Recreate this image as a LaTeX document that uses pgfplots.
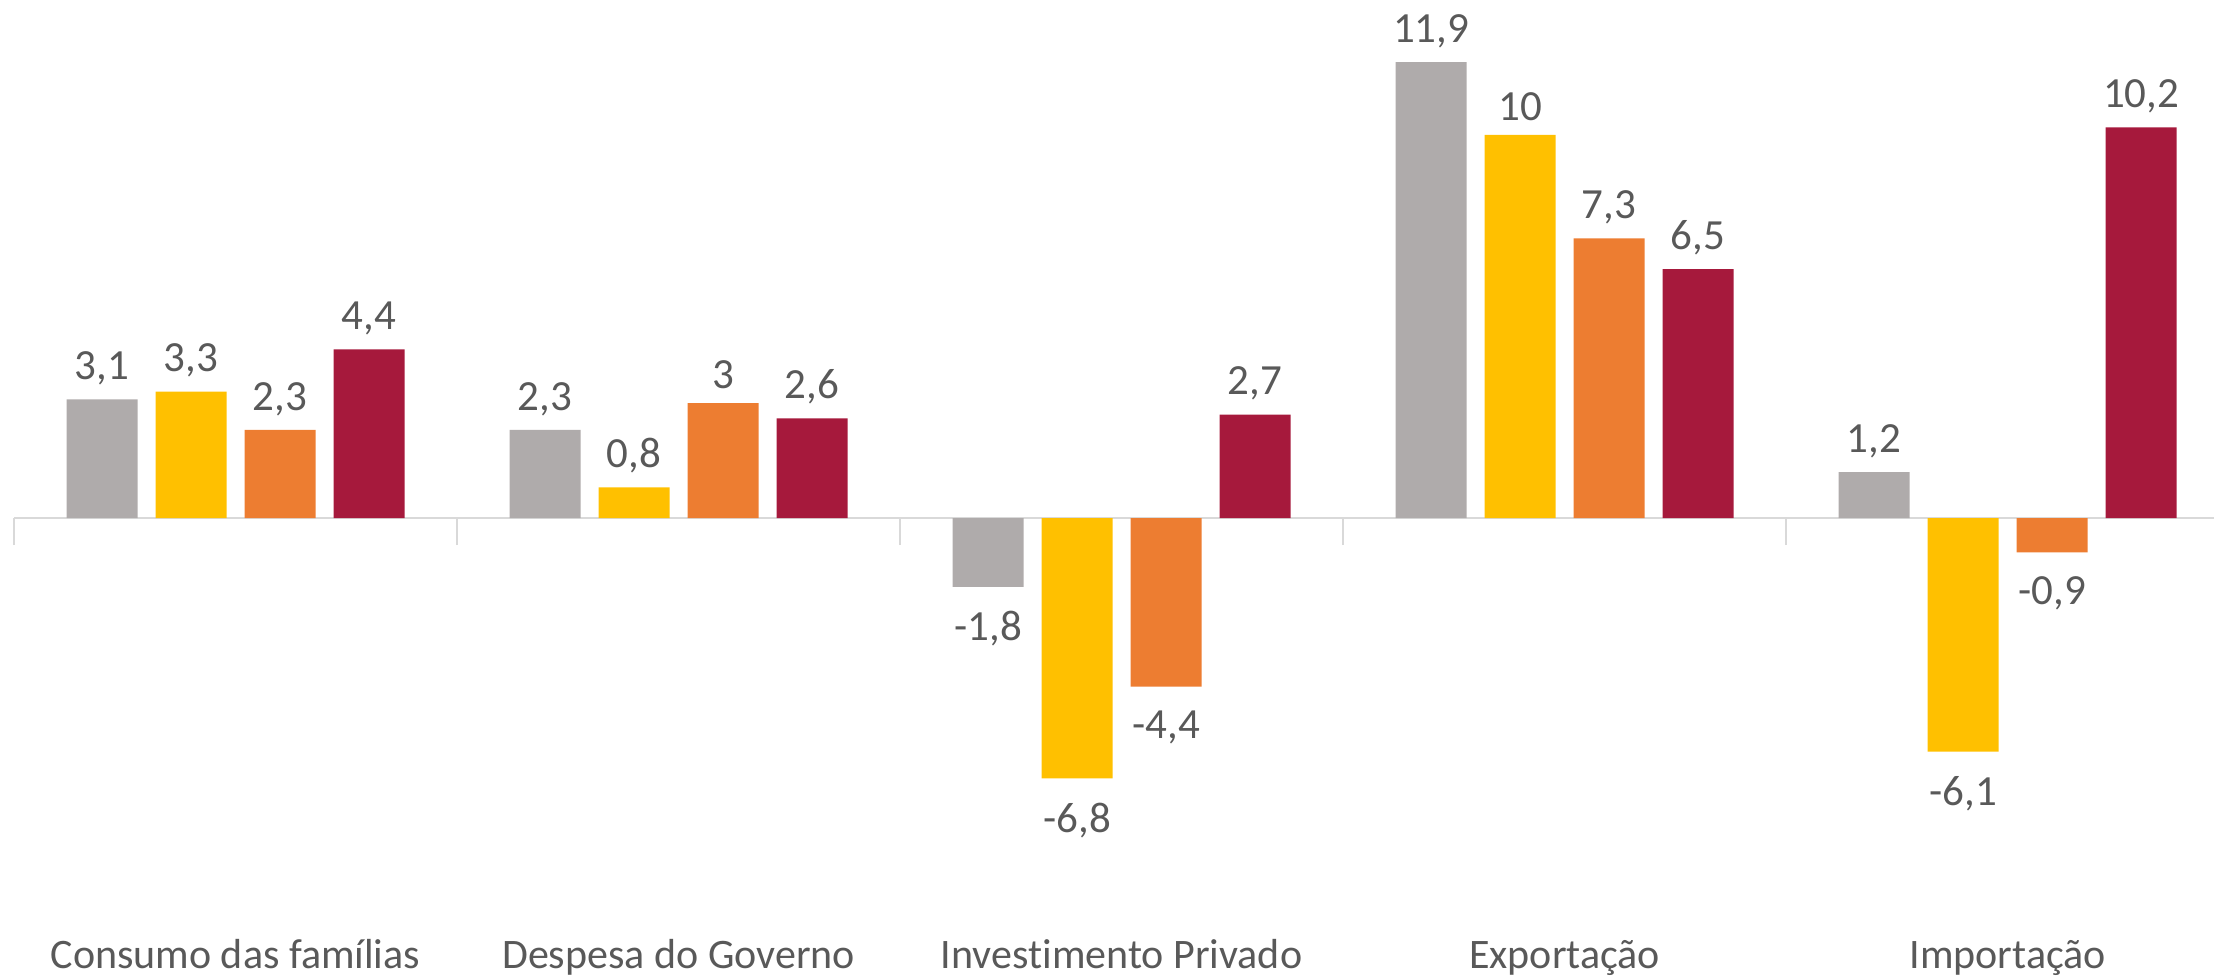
\documentclass[border=0pt]{standalone}
\usepackage{pgfplots}
\pgfplotsset{compat=1.18}
\usepackage{fontspec}
\setmainfont[Ligatures={NoCommon}]{Carlito}
\definecolor{cgray}{HTML}{AFABAB}
\definecolor{cyellow}{HTML}{FFC000}
\definecolor{corange}{HTML}{ED7D31}
\definecolor{ccrim}{HTML}{A6193C}
\definecolor{lgray}{HTML}{D9D9D9}
\definecolor{lab}{HTML}{595959}
\begin{document}
\begin{tikzpicture}
\useasboundingbox (0,0) rectangle (1107pt,487.5pt);
\begin{axis}[
  at={(7pt,75.3pt)}, anchor=south west,
  scale only axis, width=1100pt, height=402.15pt,
  xmin=-0.5, xmax=4.466, ymin=-8, ymax=13,
  axis y line=none, axis x line=middle,
  x axis line style={-, draw=lgray, line width=1pt},
  xtick={0,1,2,3,4},
  xticklabels={Consumo das famílias, Despesa do Governo, Investimento Privado, Exportação, Importação},
  major tick length=0pt,
  minor xtick={-0.5,0.5,1.5,2.5,3.5}, minor tick length=13.5pt, tick align=center,
  minor tick style={draw=lgray, line width=1pt},
  xticklabel style={anchor=base, yshift=-225pt, text=lab, font=\fontsize{21}{25}\selectfont},
  ybar=9pt, bar width=35.5pt,
  nodes near coords,
  nodes near coords style={font=\fontsize{21.5}{25}\selectfont, text=lab, inner ysep=7pt,
    /utils/exec={\pgfmathfloatgetflagstomacro\pgfplotspointmeta\myflag
      \ifnum\myflag=2 \def\myshift{-5pt}\else\def\myshift{0pt}\fi},
    yshift=\myshift},
  /pgf/number format/use comma, /pgf/number format/assume math mode=true,
  clip=false,
  every axis plot/.append style={draw=none},
]
\addplot[fill=cgray] coordinates {(0,3.1) (1,2.3) (2,-1.8) (3,11.9) (4,1.2)};
\addplot[fill=cyellow] coordinates {(0,3.3) (1,0.8) (2,-6.8) (3,10) (4,-6.1)};
\addplot[fill=corange] coordinates {(0,2.3) (1,3) (2,-4.4) (3,7.3) (4,-0.9)};
\addplot[fill=ccrim] coordinates {(0,4.4) (1,2.6) (2,2.7) (3,6.5) (4,10.2)};
\end{axis}
\end{tikzpicture}
\end{document}
